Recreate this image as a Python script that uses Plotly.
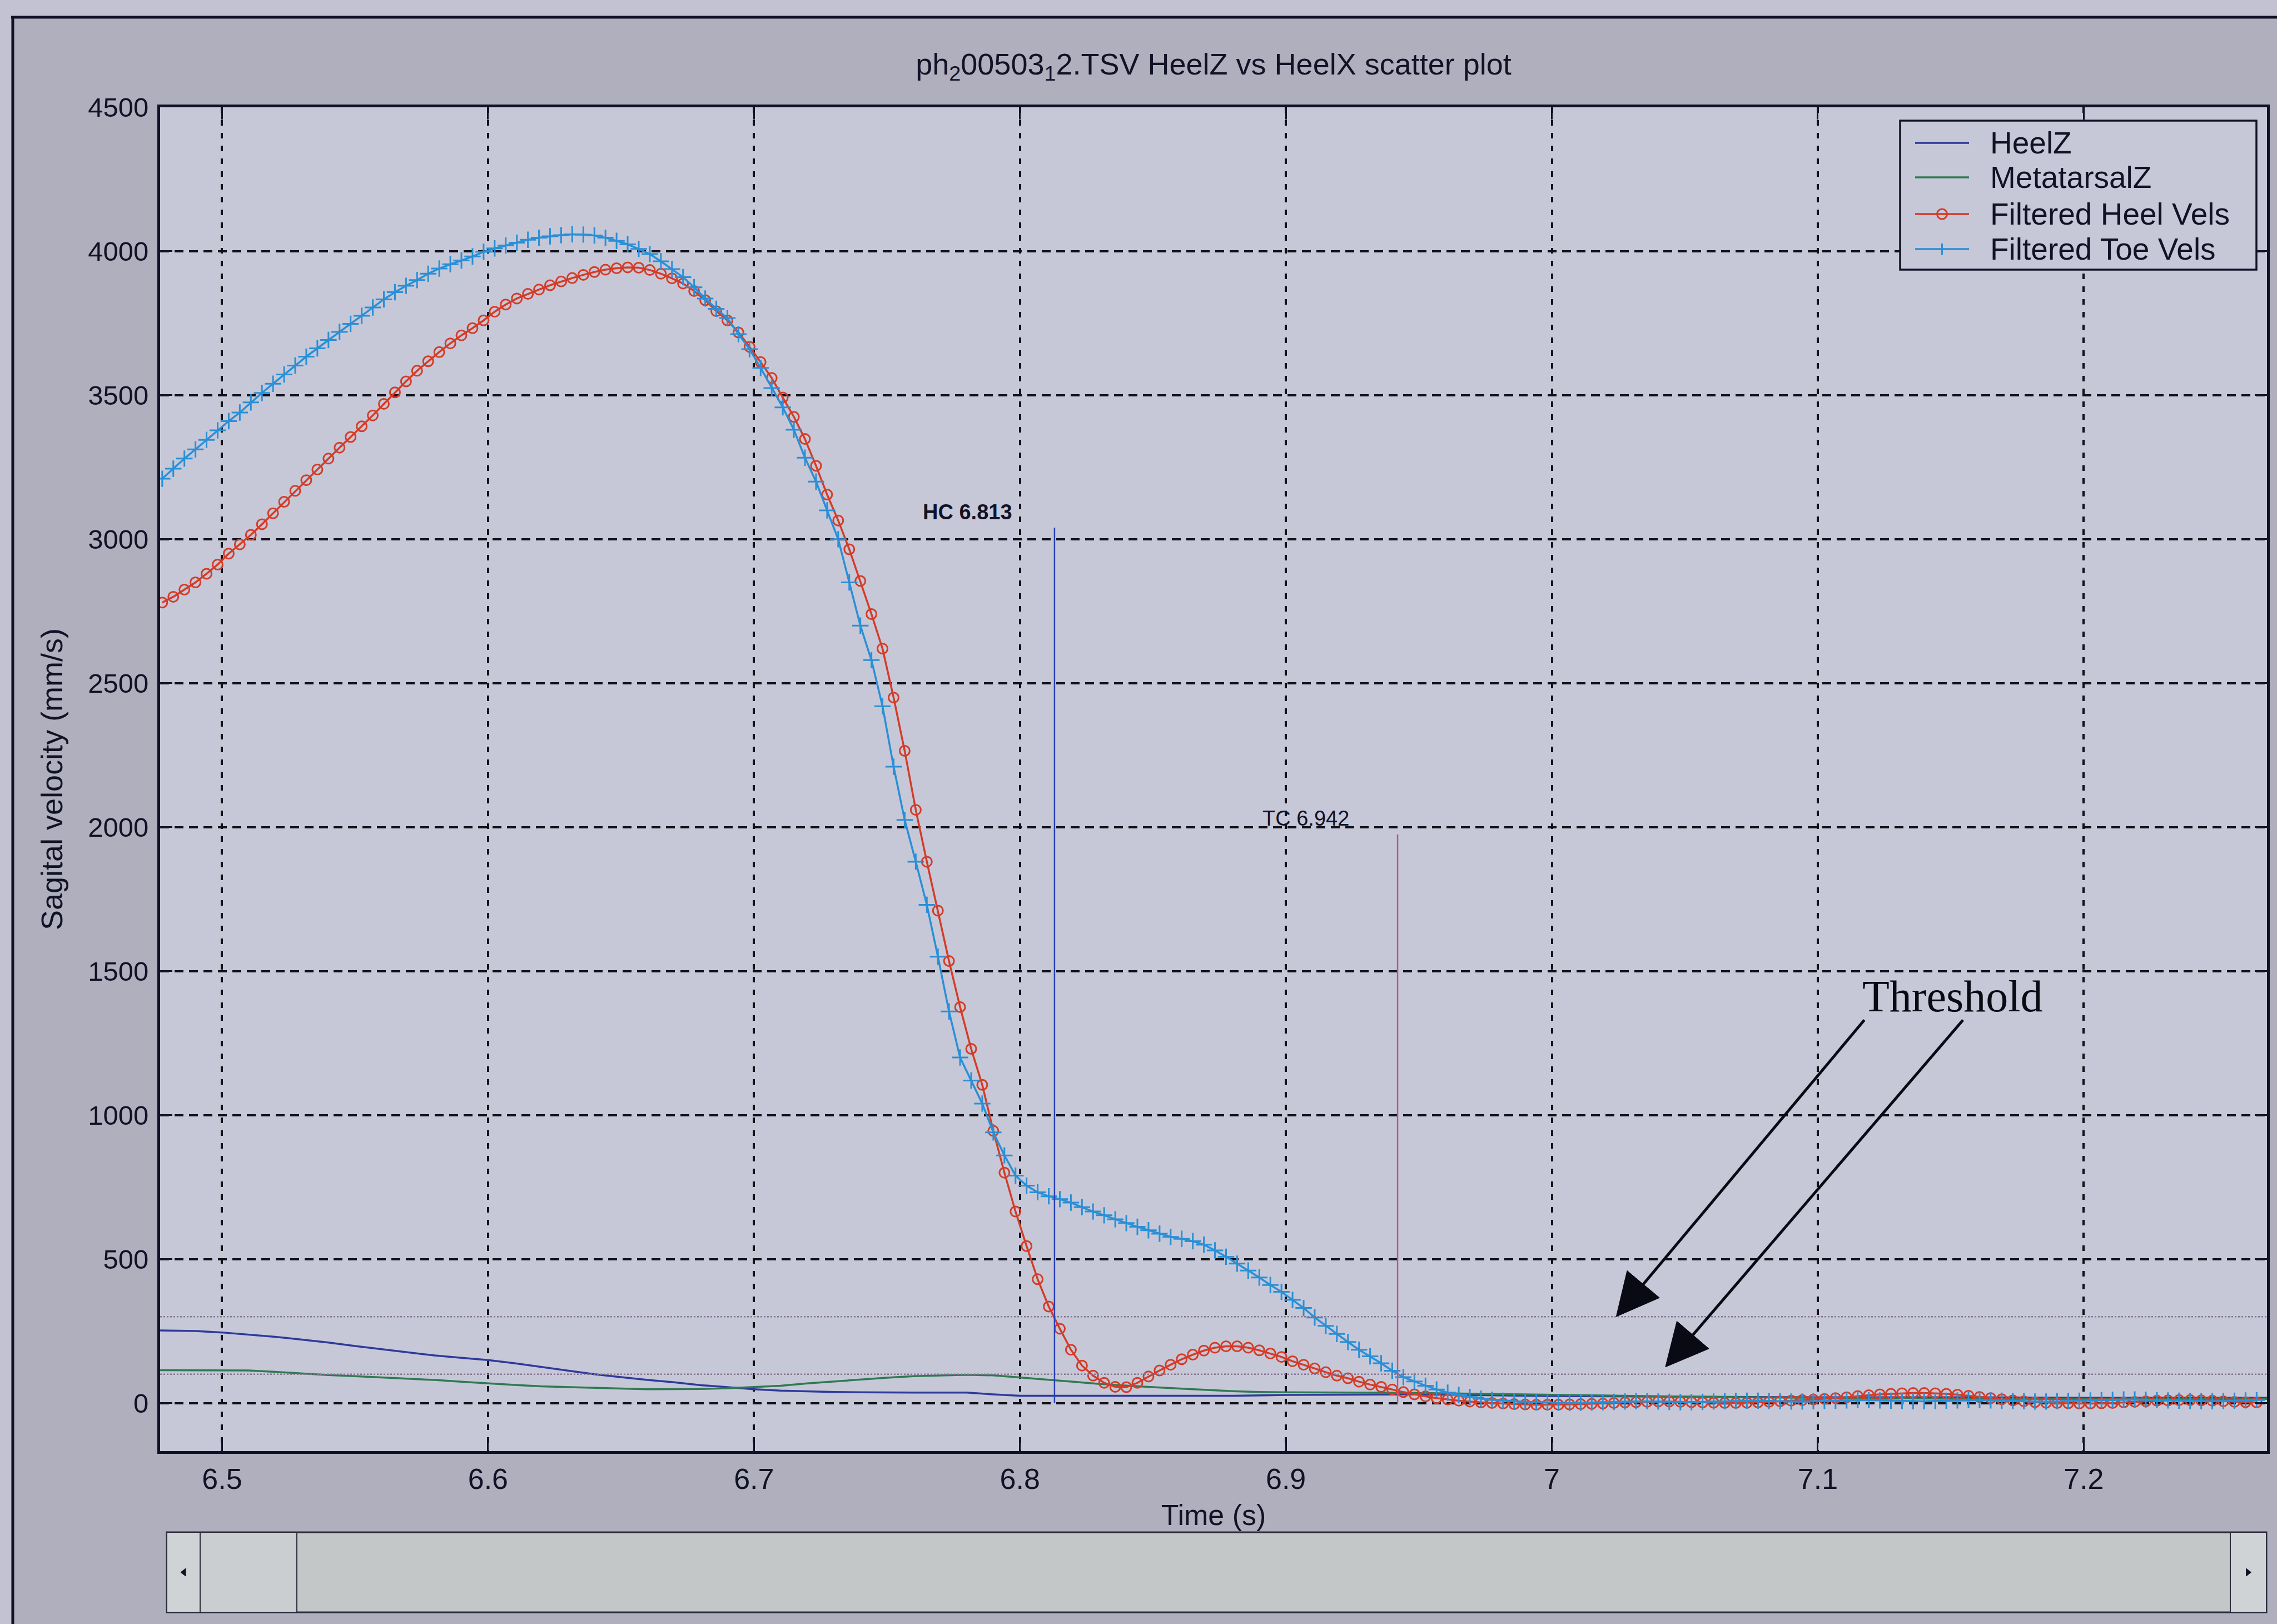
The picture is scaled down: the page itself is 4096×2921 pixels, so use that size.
import math
import plotly.graph_objects as go

# ---------------------------------------------------------------------------
# Data: sagittal velocities (mm/s) sampled at 240 Hz
# ---------------------------------------------------------------------------
SAMPLE_RATE = 240.0
T_START = 6.4775

FILTERED_HEEL = [
    2780, 2800, 2825, 2850, 2880, 2912, 2950, 2982, 3015, 3052,
    3090, 3130, 3168, 3205, 3242, 3280, 3318, 3355, 3392, 3430,
    3470, 3510, 3548, 3585, 3618, 3650, 3680, 3708, 3733, 3760,
    3790, 3815, 3836, 3852, 3867, 3882, 3895, 3907, 3918, 3928,
    3936, 3941, 3944, 3943, 3935, 3922, 3906, 3888, 3862, 3830,
    3792, 3760, 3718, 3668, 3615, 3560, 3492, 3425, 3348, 3255,
    3155, 3065, 2965, 2855, 2740, 2620, 2450, 2265, 2060, 1880,
    1710, 1535, 1375, 1230, 1105, 945, 800, 665, 545, 430,
    335, 258, 185, 130, 95, 70, 56, 55, 70, 92,
    113, 133, 152, 168, 182, 192, 197, 197, 192, 183,
    172, 160, 145, 133, 120, 107, 95, 86, 74, 64,
    56, 47, 38, 30, 23, 17, 12, 8, 5, 2,
    0, -2, -4, -5, -6, -6, -6, -5, -4, -3,
    -2, 0, 2, 3, 4, 5, 5, 4, 3, 2,
    1, 0, 0, 1, 2, 4, 6, 8, 10, 12,
    14, 17, 20, 24, 27, 30, 32, 34, 35, 35,
    34, 32, 29, 25, 21, 17, 13, 9, 6, 3,
    1, 0, -1, -2, -2, -1, 0, 2, 4, 6,
    8, 9, 10, 10, 9, 8, 6, 4, 3, 2,
]

FILTERED_TOE = [
    3210, 3245, 3280, 3312, 3345, 3378, 3410, 3440, 3475, 3508,
    3540, 3572, 3603, 3634, 3663, 3692, 3720, 3748, 3776, 3805,
    3833, 3858, 3880, 3900, 3922, 3940, 3955, 3968, 3982, 3998,
    4010, 4020, 4030, 4040, 4047, 4052, 4056, 4059, 4058, 4055,
    4047, 4036, 4024, 4008, 3990, 3965, 3938, 3910, 3875, 3836,
    3800, 3768, 3712, 3660, 3595, 3525, 3458, 3380, 3283, 3200,
    3100, 3000, 2850, 2700, 2580, 2420, 2210, 2025, 1880, 1730,
    1550, 1360, 1200, 1120, 1040, 940, 860, 790, 755, 732,
    718, 708, 696, 680, 665, 652, 638, 625, 612, 600,
    588, 577, 570, 562, 550, 530, 508, 484, 460, 436,
    410, 386, 358, 330, 297, 268, 240, 212, 185, 162,
    138, 112, 90, 75, 60, 47, 36, 28, 21, 15,
    11, 8, 6, 4, 3, 2, 1, 0, 1, 2,
    3, 4, 5, 6, 6, 5, 4, 3, 3, 4,
    5, 6, 7, 8, 8, 7, 6, 5, 5, 6,
    7, 8, 9, 10, 10, 9, 8, 7, 6, 6,
    7, 8, 9, 10, 10, 9, 8, 7, 6, 5,
    5, 6, 7, 8, 9, 10, 11, 12, 12, 11,
    10, 9, 8, 7, 6, 6, 7, 8, 9, 10,
]

HEELZ_TIME = [6.4767, 6.49, 6.50, 6.51, 6.52, 6.53, 6.54, 6.55, 6.56, 6.57,
              6.58, 6.59, 6.60, 6.61, 6.62, 6.63, 6.64, 6.65, 6.66, 6.67,
              6.68, 6.69, 6.70, 6.71, 6.72, 6.73, 6.74, 6.75, 6.76, 6.77,
              6.78, 6.79, 6.80, 6.82, 6.85, 6.88, 6.90, 6.95, 7.00, 7.05,
              7.10, 7.15, 7.20, 7.2689]
HEELZ = [252, 250, 245, 238, 230, 220, 210, 198, 187, 176,
         165, 157, 149, 138, 125, 112, 100, 90, 80, 72,
         62, 55, 48, 43, 40, 38, 37, 36, 36, 36,
         36, 30, 25, 25, 25, 25, 28, 30, 24, 22,
         20, 20, 18, 18]

META_TIME = [6.4767, 6.50, 6.51, 6.52, 6.53, 6.54, 6.55, 6.56, 6.57, 6.58,
             6.59, 6.60, 6.61, 6.62, 6.63, 6.64, 6.65, 6.66, 6.67, 6.68,
             6.69, 6.70, 6.71, 6.72, 6.73, 6.74, 6.75, 6.76, 6.77, 6.78,
             6.79, 6.80, 6.81, 6.82, 6.83, 6.84, 6.85, 6.86, 6.87, 6.88,
             6.89, 6.90, 6.95, 7.00, 7.05, 7.10, 7.15, 7.20, 7.2689]
METATARSALZ = [114, 114, 113, 108, 102, 97, 93, 89, 84, 80,
               74, 68, 63, 58, 55, 52, 50, 48, 48, 49,
               51, 55, 60, 68, 75, 82, 88, 93, 96, 98,
               96, 89, 82, 74, 66, 60, 55, 50, 45, 41,
               38, 37, 35, 28, 22, 18, 15, 14, 14]

# Gait events (s) and the height their markers reach (mm/s)
HC_TIME, HC_TOP = 6.813, 3040
TC_TIME, TC_TOP = 6.942, 1975
THRESHOLDS = [300, 100]

X_TICKS = [6.5, 6.6, 6.7, 6.8, 6.9, 7.0, 7.1, 7.2]
X_TICK_TEXT = ["6.5", "6.6", "6.7", "6.8", "6.9", "7", "7.1", "7.2"]
Y_TICKS = [0, 500, 1000, 1500, 2000, 2500, 3000, 3500, 4000, 4500]

SERIES_NAMES = ["HeelZ", "MetatarsalZ", "Filtered Heel Vels", "Filtered Toe Vels"]

time = [T_START + i / SAMPLE_RATE for i in range(len(FILTERED_HEEL))]

# ---------------------------------------------------------------------------
# Styling and page geometry (pixels)
# ---------------------------------------------------------------------------
FIG_W, FIG_H = 4096, 2921
L, R, T, B = 288, 4078, 193, 2610
X_RANGE = [6.4767, 7.2689]
Y_RANGE = [-167, 4500]

PAPER = "#afafbe"
OUTER = "#c3c2d2"
PLOT_BG = "#c6c8d8"
INK = "#121226"
RED = "#d43c28"
TOE_BLUE = "#2a8fd6"
HEELZ_C = "#2e3a9c"
META_C = "#2f7a52"
HC_C = "#2a3fb8"
TC_C = "#c0508f"
THR_C = "#857592"
SANS = "Liberation Sans, Arial, sans-serif"
SERIF = "Liberation Serif, Times New Roman, serif"


def px(xp):
    return (xp - L) / (R - L)


def py(yp):
    return (B - yp) / (B - T)


def data_to_pixel(t, v):
    xp = L + (t - X_RANGE[0]) / (X_RANGE[1] - X_RANGE[0]) * (R - L)
    yp = B - (v - Y_RANGE[0]) / (Y_RANGE[1] - Y_RANGE[0]) * (B - T)
    return xp, yp


def arrow_shapes(tail, tip, head_len=76, head_half=38, width=5, color="#0a0a14"):
    """Shaft plus filled triangular head, built in pixel space then mapped to paper."""
    qx, qy = data_to_pixel(*tail)
    tx, ty = data_to_pixel(*tip)
    dx, dy = tx - qx, ty - qy
    n = math.hypot(dx, dy)
    ux, uy = dx / n, dy / n
    bx, by = tx - ux * head_len, ty - uy * head_len
    nx, ny = -uy, ux
    c1 = (bx + nx * head_half, by + ny * head_half)
    c2 = (bx - nx * head_half, by - ny * head_half)
    shaft = dict(type="line", xref="paper", yref="paper",
                 x0=px(qx), y0=py(qy), x1=px(bx + ux * 4), y1=py(by + uy * 4),
                 line=dict(color=color, width=width))
    head = dict(type="path", xref="paper", yref="paper",
                path=(f"M {px(tx)} {py(ty)} L {px(c1[0])} {py(c1[1])} "
                      f"L {px(c2[0])} {py(c2[1])} Z"),
                fillcolor=color, line=dict(color=color, width=1))
    return [shaft, head]


fig = go.Figure()

fig.add_trace(go.Scatter(x=HEELZ_TIME, y=HEELZ, mode="lines", name=SERIES_NAMES[0],
                         line=dict(color=HEELZ_C, width=3.5), showlegend=False))
fig.add_trace(go.Scatter(x=META_TIME, y=METATARSALZ, mode="lines", name=SERIES_NAMES[1],
                         line=dict(color=META_C, width=3.5), showlegend=False))
fig.add_trace(go.Scatter(x=time, y=FILTERED_HEEL, mode="lines+markers", name=SERIES_NAMES[2],
                         line=dict(color=RED, width=3.5),
                         marker=dict(symbol="circle-open", size=18, color=RED,
                                     line=dict(width=3, color=RED)),
                         showlegend=False))
fig.add_trace(go.Scatter(x=time, y=FILTERED_TOE, mode="lines+markers", name=SERIES_NAMES[3],
                         line=dict(color=TOE_BLUE, width=3.5),
                         marker=dict(symbol="cross-thin", size=21, color=TOE_BLUE,
                                     line=dict(width=3, color=TOE_BLUE)),
                         showlegend=False))

shapes = []

# Window frame and the light strip outside it
shapes.append(dict(type="rect", xref="paper", yref="paper", x0=px(0), x1=px(FIG_W),
                   y0=py(0), y1=py(29), fillcolor=OUTER, line_width=0, layer="below"))
shapes.append(dict(type="rect", xref="paper", yref="paper", x0=px(0), x1=px(20),
                   y0=py(0), y1=py(FIG_H), fillcolor=OUTER, line_width=0, layer="below"))
shapes.append(dict(type="line", xref="paper", yref="paper", x0=px(20), x1=px(FIG_W),
                   y0=py(31), y1=py(31), line=dict(color=INK, width=5), layer="below"))
shapes.append(dict(type="line", xref="paper", yref="paper", x0=px(23), x1=px(23),
                   y0=py(29), y1=py(FIG_H), line=dict(color=INK, width=5), layer="below"))

# Threshold levels
for thr in THRESHOLDS:
    shapes.append(dict(type="line", xref="paper", yref="y", x0=0, x1=1, y0=thr, y1=thr,
                       line=dict(color=THR_C, width=2.5, dash="dot"), layer="above"))

# Heel contact / toe contact markers
shapes.append(dict(type="line", xref="x", yref="y", x0=HC_TIME, x1=HC_TIME, y0=0, y1=HC_TOP,
                   line=dict(color=HC_C, width=2.5)))
shapes.append(dict(type="line", xref="x", yref="y", x0=TC_TIME, x1=TC_TIME, y0=0, y1=TC_TOP,
                   line=dict(color=TC_C, width=2.5)))

# Arrows from the "Threshold" note down to the two threshold levels
shapes += arrow_shapes(tail=(7.1175, 1330), tip=(7.0242, THRESHOLDS[0]))
shapes += arrow_shapes(tail=(7.1546, 1330), tip=(7.0427, 125))

# Legend box
LEG_X0, LEG_X1, LEG_Y0, LEG_Y1 = 3418, 4059, 217, 485
LEG_ROWS = [257, 319, 385, 448]
LEG_SAMPLE = (3445, 3542)
LEG_TEXT_X = 3578
leg_colors = [HEELZ_C, META_C, RED, TOE_BLUE]
shapes.append(dict(type="rect", xref="paper", yref="paper", x0=px(LEG_X0), x1=px(LEG_X1),
                   y0=py(LEG_Y1), y1=py(LEG_Y0), fillcolor=PLOT_BG,
                   line=dict(color=INK, width=3.5)))
for row, col in zip(LEG_ROWS, leg_colors):
    shapes.append(dict(type="line", xref="paper", yref="paper",
                       x0=px(LEG_SAMPLE[0]), x1=px(LEG_SAMPLE[1]), y0=py(row), y1=py(row),
                       line=dict(color=col, width=3.5)))
mid = (LEG_SAMPLE[0] + LEG_SAMPLE[1]) / 2
shapes.append(dict(type="circle", xref="paper", yref="paper",
                   x0=px(mid - 9), x1=px(mid + 9), y0=py(LEG_ROWS[2] + 9), y1=py(LEG_ROWS[2] - 9),
                   line=dict(color=RED, width=3)))
shapes.append(dict(type="line", xref="paper", yref="paper",
                   x0=px(mid), x1=px(mid), y0=py(LEG_ROWS[3] + 10), y1=py(LEG_ROWS[3] - 10),
                   line=dict(color=TOE_BLUE, width=3)))

# Horizontal scroll bar under the axes
SB_X0, SB_X1, SB_Y0, SB_Y1 = 300, 4077, 2756, 2900
BTN_L, THUMB_R, BTN_R = 360, 534, 4012
shapes.append(dict(type="rect", xref="paper", yref="paper", x0=px(SB_X0), x1=px(SB_X1),
                   y0=py(SB_Y1), y1=py(SB_Y0), fillcolor="#c3c7c8",
                   line=dict(color="#2c2c3c", width=3)))
shapes.append(dict(type="rect", xref="paper", yref="paper", x0=px(SB_X0), x1=px(BTN_L),
                   y0=py(SB_Y1), y1=py(SB_Y0), fillcolor="#d0d3d5",
                   line=dict(color="#2c2c3c", width=2)))
shapes.append(dict(type="rect", xref="paper", yref="paper", x0=px(BTN_L), x1=px(THUMB_R),
                   y0=py(SB_Y1), y1=py(SB_Y0), fillcolor="#cbced0",
                   line=dict(color="#2c2c3c", width=2)))
shapes.append(dict(type="rect", xref="paper", yref="paper", x0=px(BTN_R), x1=px(SB_X1),
                   y0=py(SB_Y1), y1=py(SB_Y0), fillcolor="#d0d3d5",
                   line=dict(color="#2c2c3c", width=2)))
cy = (SB_Y0 + SB_Y1) / 2
lx = (SB_X0 + BTN_L) / 2
rx = (BTN_R + SB_X1) / 2
shapes.append(dict(type="path", xref="paper", yref="paper",
                   path=f"M {px(lx - 5)} {py(cy)} L {px(lx + 4)} {py(cy - 7)} L {px(lx + 4)} {py(cy + 7)} Z",
                   fillcolor=INK, line=dict(color=INK, width=1)))
shapes.append(dict(type="path", xref="paper", yref="paper",
                   path=f"M {px(rx + 5)} {py(cy)} L {px(rx - 4)} {py(cy - 7)} L {px(rx - 4)} {py(cy + 7)} Z",
                   fillcolor=INK, line=dict(color=INK, width=1)))

annotations = [
    dict(xref="x", yref="y", x=6.7975, y=3095, text=f"<b>HC {HC_TIME:.3f}</b>",
         showarrow=False, xanchor="right", yanchor="middle",
         font=dict(family=SANS, size=38, color=INK)),
    dict(xref="x", yref="y", x=6.9243, y=2030, text=f"TC {TC_TIME:.3f}",
         showarrow=False, xanchor="right", yanchor="middle",
         font=dict(family=SANS, size=38, color=INK)),
    dict(xref="x", yref="y", x=7.1505, y=1412, text="Threshold",
         showarrow=False, xanchor="center", yanchor="middle",
         font=dict(family=SERIF, size=80, color="#0a0a14")),
]
for row, name in zip(LEG_ROWS, SERIES_NAMES):
    annotations.append(dict(xref="paper", yref="paper", x=px(LEG_TEXT_X), y=py(row), text=name,
                            showarrow=False, xanchor="left", yanchor="middle",
                            font=dict(family=SANS, size=55, color=INK)))

fig.update_layout(
    width=FIG_W, height=FIG_H,
    margin=dict(l=L, r=FIG_W - R, t=T, b=FIG_H - B, pad=0),
    paper_bgcolor=PAPER, plot_bgcolor=PLOT_BG,
    showlegend=False,
    title=dict(text="ph<sub>2</sub>00503<sub>1</sub>2.TSV HeelZ vs HeelX scatter plot",
               xref="paper", x=0.5, xanchor="center",
               yref="container", y=1 - 115 / FIG_H, yanchor="middle",
               font=dict(family=SANS, size=54, color=INK)),
    shapes=shapes, annotations=annotations,
    xaxis=dict(range=X_RANGE, tickvals=X_TICKS, ticktext=X_TICK_TEXT,
               title=dict(text="Time (s)", standoff=20,
                          font=dict(family=SANS, size=52, color=INK)),
               showgrid=True, gridcolor="#101018", gridwidth=4, griddash="10px,13px",
               zeroline=False, showline=True, mirror="ticks", linecolor=INK, linewidth=5,
               ticks="inside", ticklen=22, tickwidth=3, tickcolor=INK,
               tickfont=dict(family=SANS, size=52, color=INK), ticklabelstandoff=1),
    yaxis=dict(range=Y_RANGE, tickvals=Y_TICKS,
               title=dict(text="Sagital velocity (mm/s)", standoff=30,
                          font=dict(family=SANS, size=54, color=INK)),
               showgrid=True, gridcolor="#101018", gridwidth=4, griddash="16px,10px",
               zeroline=False, showline=True, mirror="ticks", linecolor=INK, linewidth=5,
               ticks="inside", ticklen=22, tickwidth=3, tickcolor=INK,
               tickfont=dict(family=SANS, size=49, color=INK), ticklabelstandoff=6),
)

fig.write_html("out.html", config={"displayModeBar": False})
